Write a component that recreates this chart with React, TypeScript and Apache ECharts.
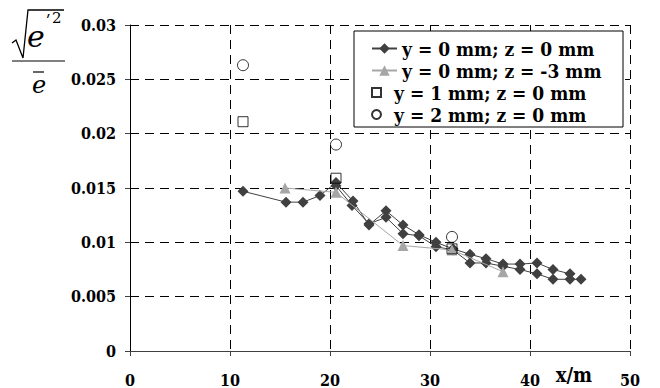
import React, { useEffect, useRef } from "react";
import * as echarts from "echarts";

const S1 = "y = 0 mm; z = 0 mm";
const S2 = "y = 0 mm; z = -3 mm";
const S3 = "y = 1 mm; z = 0 mm";
const S4 = "y = 2 mm; z = 0 mm";

const runAX = [11.3, 15.6, 17.3, 19.0, 20.6, 22.3, 23.9, 25.6, 27.3, 28.9, 30.6, 32.3, 34.0, 35.6, 37.3, 39.0, 40.7, 42.3, 44.0];
const runAY = [0.0147, 0.0137, 0.0137, 0.0143, 0.0155, 0.0138, 0.0116, 0.0129, 0.0116, 0.0107, 0.0100, 0.0094, 0.0089, 0.0085, 0.0080, 0.0080, 0.0081, 0.0075, 0.0071];
const runBX = [20.6, 22.2, 23.9, 25.6, 27.3, 28.9, 30.6, 32.3, 34.0, 35.6, 37.3, 39.0, 40.7, 42.3, 44.0, 45.1];
const runBY = [0.0152, 0.0134, 0.0117, 0.0123, 0.0108, 0.0106, 0.0096, 0.0093, 0.0081, 0.0081, 0.0078, 0.0075, 0.0071, 0.0066, 0.0066, 0.0066];
const triX = [15.5, 20.6, 27.3, 32.2, 37.3];
const triY = [0.0150, 0.0146, 0.0097, 0.0093, 0.0073];
const sqX = [11.3, 20.6, 32.2];
const sqY = [0.0211, 0.0159, 0.0094];
const ciX = [11.3, 20.6, 32.2];
const ciY = [0.0263, 0.0190, 0.0105];

const X_MIN = 0, X_MAX = 50, X_STEP = 10;
const Y_MIN = 0, Y_MAX = 0.03, Y_STEP = 0.005;

const zip = (xs: number[], ys: number[]) => xs.map((x, i) => [x, ys[i]]);

const SERIF_C = "DejaVu Serif Condensed";
const SERIF = "DejaVu Serif";

export default function App() {
  const ref = useRef<HTMLDivElement>(null);
  useEffect(() => {
    if (!ref.current) return;
    const chart = echarts.init(ref.current, undefined, { renderer: "svg" });
    const dash = [9, 6];
    const diamondStyle = {
      type: "line", name: S1, symbol: "diamond", symbolSize: 11,
      itemStyle: { color: "#404040" }, lineStyle: { color: "#404040", width: 1 }, z: 2,
    };
    const legendText = { fontFamily: SERIF_C, fontWeight: "bold", fontSize: 19, lineHeight: 21, color: "#000" };
    chart.setOption({
      animation: false,
      grid: { left: 130, right: 30, top: 25, bottom: 37 },
      xAxis: {
        type: "value", min: X_MIN, max: X_MAX, interval: X_STEP,
        axisLine: { lineStyle: { color: "#404040", width: 1 } },
        axisTick: { show: true, length: 5, lineStyle: { color: "#404040" } },
        axisLabel: { margin: 21, color: "#000", fontFamily: SERIF_C, fontWeight: "bold", fontSize: 16 },
        splitLine: { show: true, lineStyle: { color: "#000", type: dash, width: 1 } },
      },
      yAxis: {
        type: "value", min: Y_MIN, max: Y_MAX, interval: Y_STEP,
        axisLine: { show: true, lineStyle: { color: "#000", width: 1 } },
        axisTick: { show: true, length: 5, lineStyle: { color: "#404040" } },
        axisLabel: { margin: 14, color: "#000", fontFamily: SERIF_C, fontWeight: "bold", fontSize: 16 },
        splitLine: { show: true, lineStyle: { color: "#000", type: dash, width: 1 } },
      },
      legend: [
        {
          data: [S1, S2], orient: "vertical", left: 371, top: 38, padding: 0, itemGap: 1,
          itemWidth: 25, itemHeight: 13, selectedMode: false, textStyle: legendText,
        },
        {
          data: [{ name: S3, icon: "path://M0,0L10,0L10,10L0,10Z" }, { name: S4, icon: "circle" }],
          orient: "vertical", left: 371, top: 82, padding: 0, itemGap: 1,
          itemWidth: 25, itemHeight: 9, symbolKeepAspect: true, selectedMode: false, textStyle: legendText,
        },
      ],
      graphic: [
        { type: "rect", z: 3, shape: { x: 354, y: 31, width: 269, height: 96 }, style: { fill: "#fff", stroke: "#000", lineWidth: 1 } },
        { type: "polyline", shape: { points: [[12, 43], [16, 40], [23, 58], [28, 10], [64, 10]] }, style: { stroke: "#000", fill: "none", lineWidth: 1.3 } },
        { type: "text", x: 27, y: 36, style: { text: "e", fontFamily: SERIF, fontStyle: "italic", fontSize: 30, fill: "#000", verticalAlign: "middle" } },
        { type: "text", x: 46, y: 21, style: { text: "\u02B9", fontFamily: SERIF, fontStyle: "italic", fontSize: 16, fill: "#000", verticalAlign: "middle" } },
        { type: "text", x: 52, y: 18, style: { text: "2", fontFamily: SERIF, fontSize: 15, fill: "#000", verticalAlign: "middle" } },
        { type: "line", shape: { x1: 12, y1: 61, x2: 65, y2: 61 }, style: { stroke: "#000", lineWidth: 1 } },
        { type: "line", shape: { x1: 33, y1: 72, x2: 44, y2: 72 }, style: { stroke: "#000", lineWidth: 1.2 } },
        { type: "text", x: 32, y: 85, style: { text: "e", fontFamily: SERIF, fontStyle: "italic", fontSize: 24, fill: "#000", verticalAlign: "middle" } },
        { type: "text", x: 574, y: 375, style: { text: "x/m", fontFamily: SERIF_C, fontWeight: "bold", fontSize: 20, fill: "#000", align: "center", verticalAlign: "middle" } },
      ],
      series: [
        { ...diamondStyle, data: zip(runAX, runAY) },
        { ...diamondStyle, data: zip(runBX, runBY) },
        { type: "line", name: S2, data: zip(triX, triY), symbol: "triangle", symbolSize: 11,
          itemStyle: { color: "#a6a6a6" }, lineStyle: { color: "#a6a6a6", width: 1 }, z: 3 },
        { type: "scatter", name: S3, data: zip(sqX, sqY), symbol: "rect", symbolSize: 10,
          itemStyle: { color: "transparent", borderColor: "#000", borderWidth: 1 }, z: 4 },
        { type: "scatter", name: S4, data: zip(ciX, ciY), symbol: "circle", symbolSize: 11,
          itemStyle: { color: "transparent", borderColor: "#000", borderWidth: 1 }, z: 4 },
      ],
    });
    return () => chart.dispose();
  }, []);
  return <div ref={ref} style={{ width: 660, height: 388, position: "absolute", left: 0, top: 0 }} />;
}
